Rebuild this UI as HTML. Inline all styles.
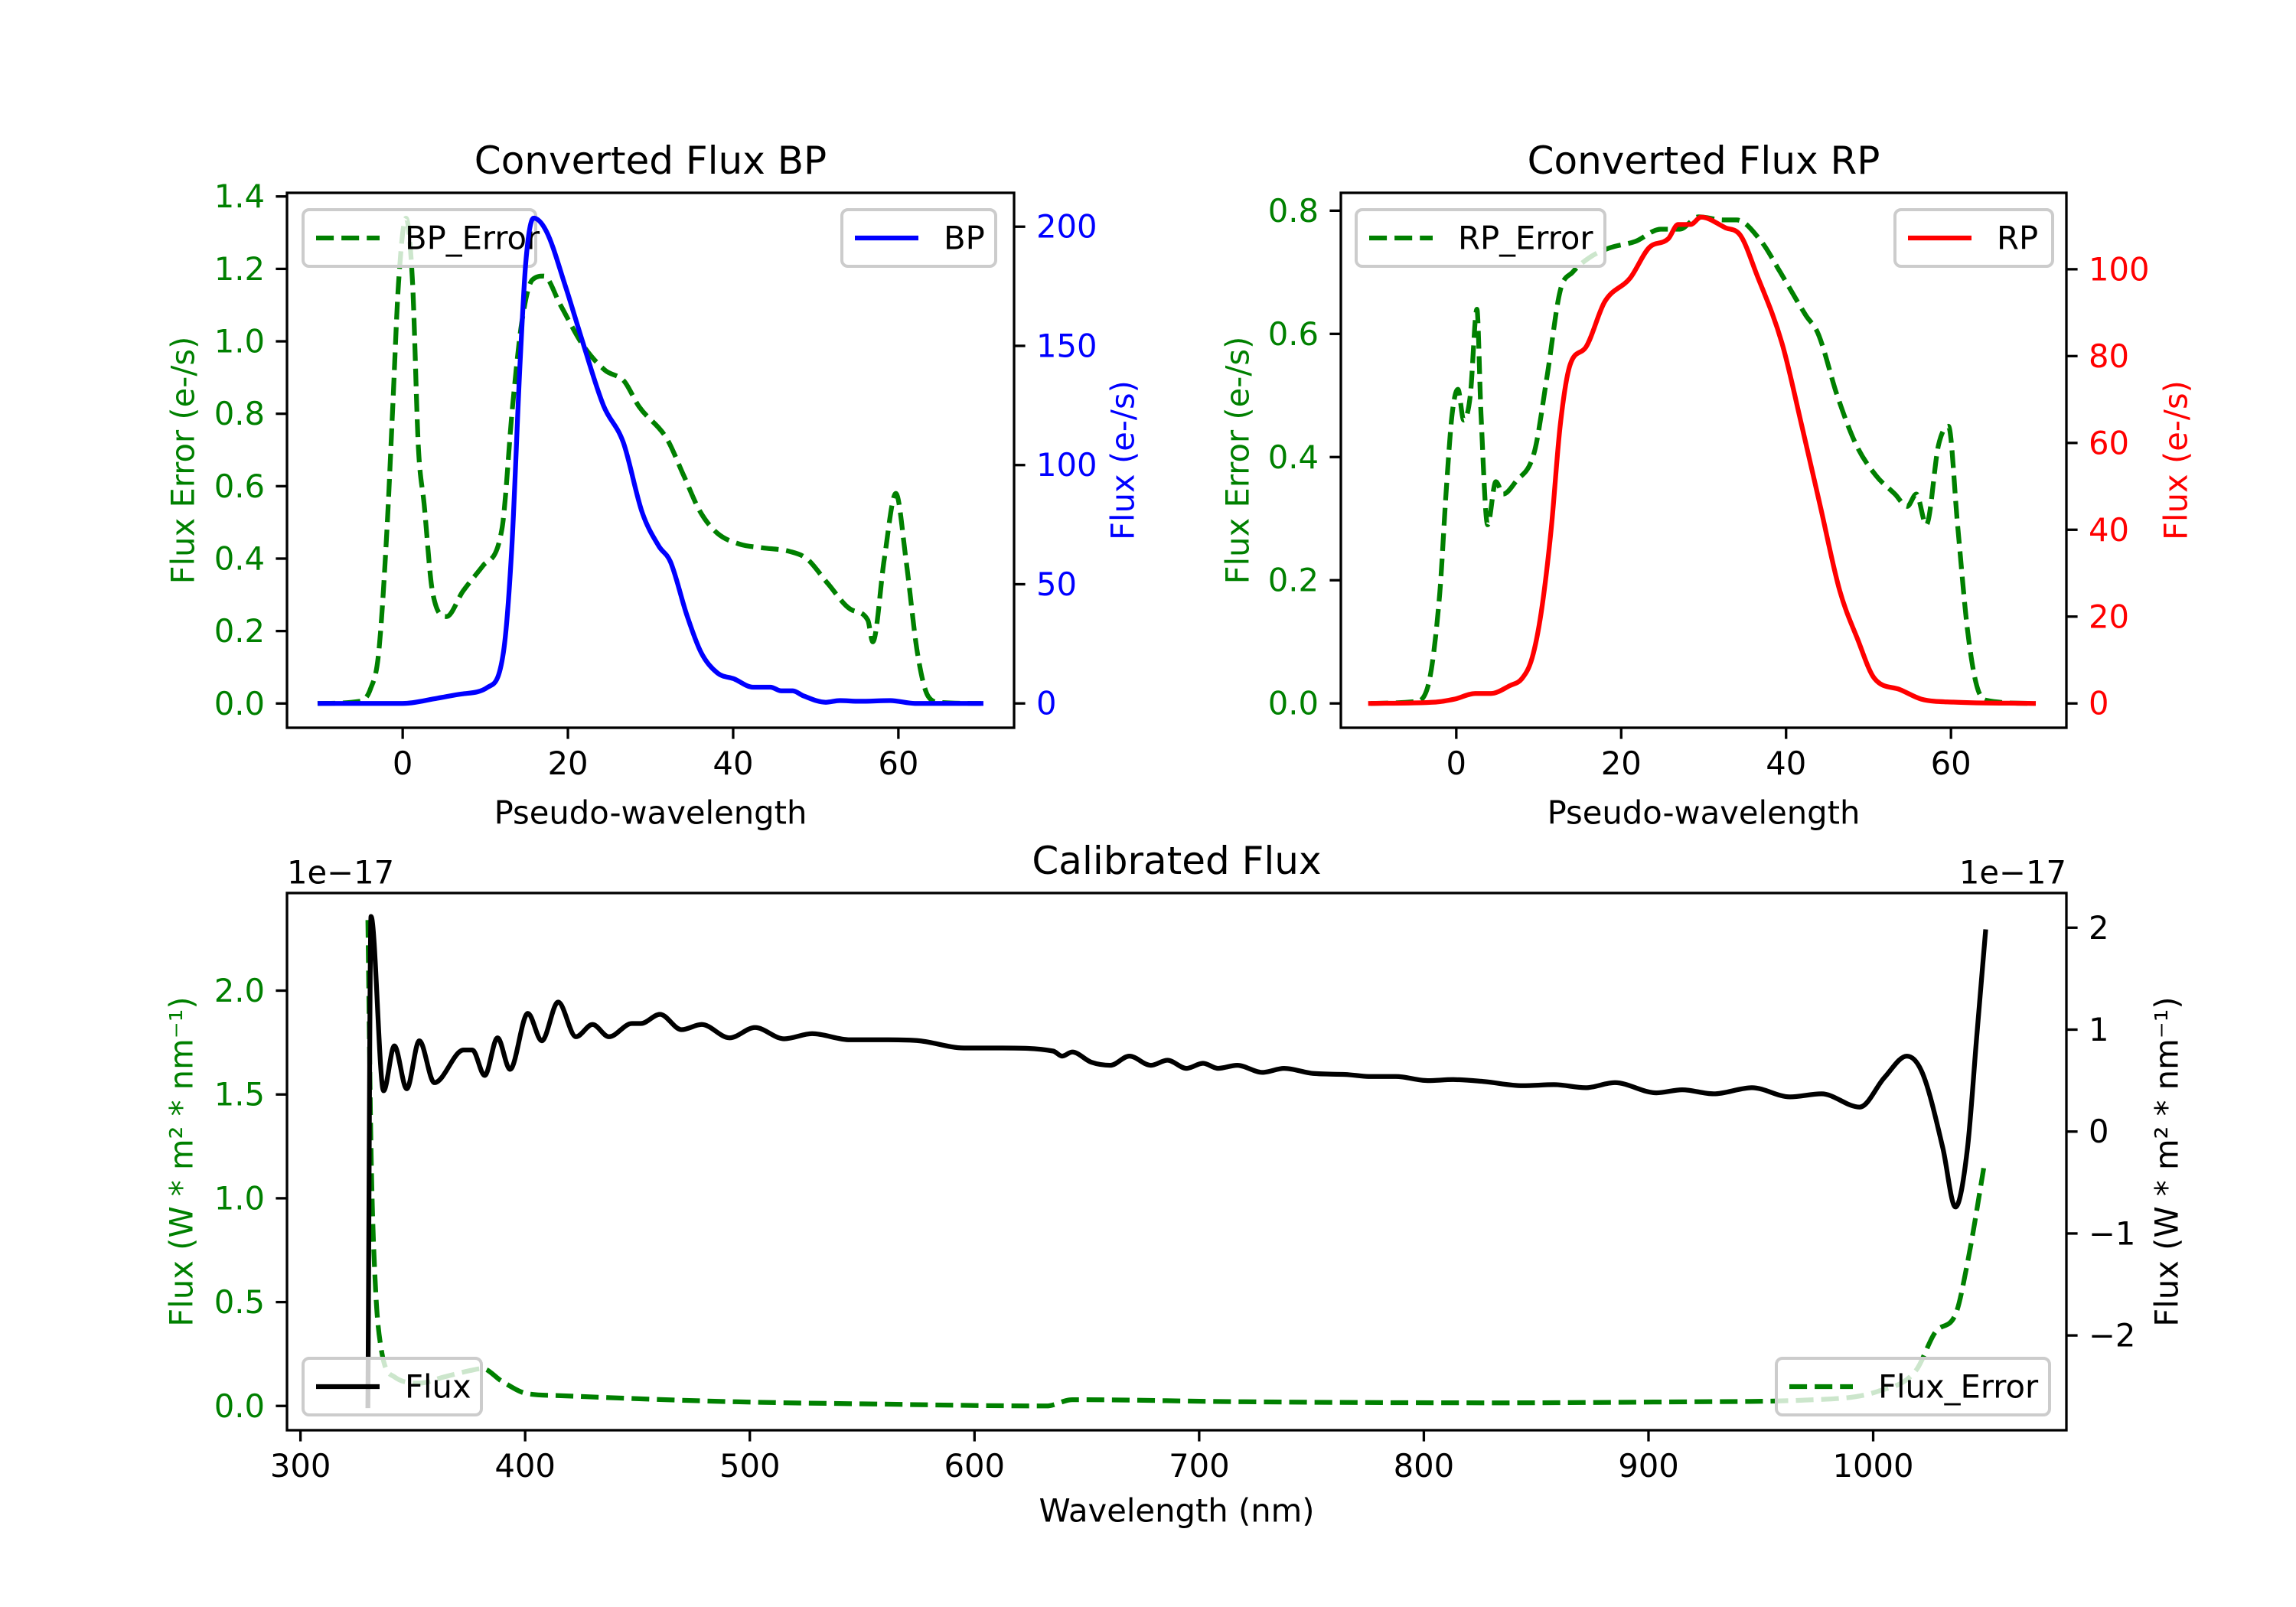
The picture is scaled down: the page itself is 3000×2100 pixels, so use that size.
<!DOCTYPE html>
<html><head><meta charset="utf-8"><style>
html,body{margin:0;padding:0;background:#fff}
svg{display:block}
text{font-family:"DejaVu Sans","Liberation Sans",sans-serif}
</style></head><body>
<svg id="fig" xmlns="http://www.w3.org/2000/svg" width="3000" height="2100" viewBox="0 0 3000 2100"></svg>
<script>
// ---- data ----
const bpX   =[-10,0,4.2,7.2,10.3,12.2,13.2,14.2,14.9,15.85,17.4,19.7,21.7,24.3,26.7,29.0,31.0,32.4,34.4,36.1,38.1,40.1,42.4,44.5,45.8,47.2,48.5,51.2,52.9,55.3,59,62,70];
const bpFlux=[0,0,2.2,4,6.8,21.5,64.6,142,185,203.6,198,175,152.6,125,109.5,80,66,59.5,37,21.5,12.8,10.3,6.8,6.8,5.3,5.3,3.2,0.5,1.2,0.9,1.2,0,0];
const bpErrX=[-10.3,-5.2,-3.9,-2.9,-1.9,-1.2,-0.5,0.4,1.2,1.9,2.6,3.6,5.3,7.3,9.7,12.0,13.3,14.4,15.7,17.1,19.1,21.8,24.5,26.8,28.6,32,34,36,38.1,40.8,43.5,46.8,48.9,51.5,54.2,56.3,56.9,58.3,59.7,60.9,62.3,63.6,65,70];
const bpErr =[0,0.006,0.04,0.14,0.48,0.82,1.16,1.34,1.16,0.71,0.55,0.31,0.24,0.31,0.38,0.48,0.82,1.05,1.17,1.18,1.10,0.99,0.92,0.89,0.82,0.73,0.63,0.53,0.47,0.44,0.43,0.42,0.40,0.33,0.26,0.23,0.17,0.40,0.58,0.40,0.14,0.02,0.003,0];
const rpX   =[-10.4,-2.5,-0.2,2.3,4.2,6.5,8.0,9.2,10.3,11.5,12.6,13.8,15.7,18,21.1,23.4,25.7,26.9,28.4,29.7,32.6,34.5,36.4,39.5,41.9,44.2,46.5,48.7,50.7,53.8,56.4,60.3,70];
const rpFlux=[0,0.3,1.0,2.3,2.3,4.1,5.8,10.5,21,40,64,78,82,92.5,98,105,107,110.3,110.3,112,109.6,107.7,99,83,64,45,26,14.7,5.8,3.2,1.0,0.3,0];
const rpErrX=[-10.4,-5.0,-3.5,-2.0,-1.2,-0.5,0.2,0.9,1.7,2.5,3.0,3.8,4.8,5.7,7.2,9.5,11.0,12.6,14.1,16.4,18.7,21.7,24.8,27.1,29.4,32.4,34,37,39.3,42.4,43.9,46.2,48.5,50.9,53.2,54.7,55.8,57,58.5,59.7,60.8,62,63.1,64.3,70];
const rpErr =[0,0.003,0.025,0.18,0.35,0.47,0.51,0.46,0.50,0.64,0.47,0.29,0.36,0.34,0.36,0.41,0.53,0.67,0.70,0.726,0.74,0.75,0.77,0.77,0.79,0.785,0.785,0.75,0.70,0.63,0.60,0.50,0.42,0.37,0.34,0.32,0.34,0.29,0.42,0.45,0.29,0.12,0.03,0.005,0];
const calX   =[330,331.4,337,341.8,347.3,352.9,359.6,372.6,376.5,382,387.7,393.3,401.2,407.4,414.7,422.6,430,437.3,447.5,451.5,460,469.6,478.6,491,502.3,515.3,527.7,544.6,561.5,575.6,595.4,612.4,635,639,643.5,652,660.5,668.9,678.5,685.9,694.3,701.7,708.4,716.9,728.2,737.8,750.8,765,776.3,787.6,801.7,813,827,844,858,872,885,903.5,915,929,946,963,977,994,1005,1015,1022,1031,1036.6,1042,1046,1050];
const calFlux=[-2.69,2.11,0.40,0.84,0.42,0.89,0.48,0.80,0.80,0.55,0.92,0.61,1.16,0.89,1.27,0.93,1.05,0.93,1.06,1.06,1.15,1.00,1.05,0.92,1.02,0.91,0.96,0.90,0.90,0.89,0.82,0.82,0.79,0.74,0.78,0.68,0.65,0.74,0.65,0.70,0.62,0.67,0.62,0.65,0.58,0.62,0.57,0.56,0.54,0.54,0.50,0.51,0.49,0.45,0.46,0.43,0.48,0.38,0.41,0.37,0.43,0.34,0.37,0.24,0.53,0.74,0.57,-0.16,-0.74,-0.16,0.91,1.96];
const calErrX=[330,331.4,333.2,336,341.8,352.9,364,375.4,381,389.5,400.6,414.7,437,493.7,550,632,643.5,720,833,918,974,1002,1019,1028,1036.6,1042,1049.6];
const calErr =[2.34,1.23,0.61,0.27,0.14,0.11,0.14,0.17,0.18,0.12,0.06,0.05,0.04,0.02,0.01,0.0,0.03,0.02,0.015,0.02,0.03,0.07,0.17,0.36,0.44,0.69,1.17];
const pwTicks=[0,20,40,60];
const bpErrTicks=[0,0.2,0.4,0.6,0.8,1.0,1.2,1.4];
const bpFluxTicks=[0,50,100,150,200];
const rpErrTicks=[0,0.2,0.4,0.6,0.8];
const rpFluxTicks=[0,20,40,60,80,100];
const wlTicks=[300,400,500,600,700,800,900,1000];
const calErrTicks=[0,0.5,1.0,1.5,2.0];
const calFluxTicks=[-2,-1,0,1,2];

const NS='http://www.w3.org/2000/svg';
const svg=document.getElementById('fig');
const FS=41.7;
function el(tag,attrs,parent,text){
  const e=document.createElementNS(NS,tag);
  for(const k in attrs)e.setAttribute(k,attrs[k]);
  if(text!==undefined)e.textContent=text;
  (parent||svg).appendChild(e);return e;
}
function scale(d0,d1,p0,p1){return v=>p0+(v-d0)*(p1-p0)/(d1-d0);}
function fmt(v,dec){return (v<0?'\u2212':'')+Math.abs(v).toFixed(dec);}

// monotone cubic path through pixel points
function smoothPath(P){
  const n=P.length;
  if(n<3)return 'M'+P.map(p=>p[0].toFixed(1)+','+p[1].toFixed(1)).join('L');
  const d=[],m=[];
  for(let i=0;i<n-1;i++){const dx=P[i+1][0]-P[i][0];d.push(dx===0?0:(P[i+1][1]-P[i][1])/dx);}
  m[0]=d[0];m[n-1]=d[n-2];
  for(let i=1;i<n-1;i++){m[i]=(d[i-1]*d[i]<=0)?0:(d[i-1]+d[i])/2;}
  for(let i=0;i<n-1;i++){
    if(d[i]===0){m[i]=0;m[i+1]=0;continue;}
    const a=m[i]/d[i],b=m[i+1]/d[i],s=a*a+b*b;
    if(s>9){const t=3/Math.sqrt(s);m[i]=t*a*d[i];m[i+1]=t*b*d[i];}
  }
  let s='M'+P[0][0].toFixed(1)+','+P[0][1].toFixed(1);
  for(let i=0;i<n-1;i++){
    const h=(P[i+1][0]-P[i][0])/3;
    s+=' C'+(P[i][0]+h).toFixed(1)+','+(P[i][1]+m[i]*h).toFixed(1)+' '+(P[i+1][0]-h).toFixed(1)+','+(P[i+1][1]-m[i+1]*h).toFixed(1)+' '+P[i+1][0].toFixed(1)+','+P[i+1][1].toFixed(1);
  }
  return s;
}
function line(xs,ys,sx,sy,color,dashed,name){
  const P=xs.map((x,i)=>[sx(x),sy(ys[i])]);
  const p=el('path',{d:smoothPath(P),fill:'none',stroke:color,'stroke-width':6.25,'stroke-linejoin':'round','stroke-linecap':dashed?'butt':'square'});
  if(dashed)p.setAttribute('stroke-dasharray','23.1 10');
  
  
  return p;
}
function legend(x,y,w,label,color,dashed,name){
  const g=el('g',{});
  
  
  el('rect',{x:x,y:y,width:w,height:74,rx:8,fill:'rgba(255,255,255,0.8)',stroke:'#cccccc','stroke-width':4},g);
  const h=el('line',{x1:x+17,x2:x+100,y1:y+37,y2:y+37,stroke:color,'stroke-width':6.25},g);
  if(dashed)h.setAttribute('stroke-dasharray','23.1 10');
  el('text',{x:x+133,y:y+37,'font-size':FS,'dominant-baseline':'central'},g,label);
}
function xAxis(ticks,sx,L,B,dec,name){
  const g=el('g',{});
  
  
  ticks.forEach(t=>{
    el('line',{x1:sx(t),x2:sx(t),y1:B,y2:B+14.6,stroke:'#000','stroke-width':3.3},g);
    el('text',{x:sx(t),y:B+30,'font-size':FS,'text-anchor':'middle','dominant-baseline':'hanging'},g,fmt(t,dec));
  });
}
function yAxis(ticks,sy,X,side,dec,color,name){
  const g=el('g',{});
  
  
  ticks.forEach(t=>{
    const d=side==='left'?-1:1;
    el('line',{x1:X,x2:X+d*14.6,y1:sy(t),y2:sy(t),stroke:'#000','stroke-width':3.3},g);
    el('text',{x:X+d*29,y:sy(t),'font-size':FS,fill:color,'text-anchor':side==='left'?'end':'start','dominant-baseline':'central'},g,fmt(t,dec));
  });
}
function rotLabel(x,y,txt,color,name){
  const t=el('text',{x:x,y:y,'font-size':FS,fill:color,'text-anchor':'middle','dominant-baseline':'central',transform:`rotate(-90 ${x} ${y})`},svg,txt);
  
  
}
function plainText(x,y,txt,size,anchor,name){
  const t=el('text',{x:x,y:y,'font-size':size,'text-anchor':anchor,'dominant-baseline':'central'},svg,txt);
  
  
}
function frame(L,T,R,B,name){
  const r=el('rect',{x:L,y:T,width:R-L,height:B-T,fill:'none',stroke:'#000','stroke-width':3.3});
  
  
}

// ---- Panel BP ----
(function(){
  const L=375,R=1325,T=252,B=951;
  const sx=scale(-14,74,L,R), syE=scale(-0.067,1.41,B,T), syF=scale(-10.2,214.2,B,T);
  line(bpErrX,bpErr,sx,syE,'#008000',true,'bp-error-line');
  legend(396,274,304,'BP_Error','#008000',true,'bp-error-legend');
  line(bpX,bpFlux,sx,syF,'#0000ff',false,'bp-flux-line');
  legend(1100,274,201,'BP','#0000ff',false,'bp-legend');
  frame(L,T,R,B,'bp-axes-frame');
  xAxis(pwTicks,sx,L,B,0,'bp-x-axis');
  yAxis(bpErrTicks,syE,L,'left',1,'#008000','bp-left-y-axis');
  yAxis(bpFluxTicks,syF,R,'right',0,'#0000ff','bp-right-y-axis');
  rotLabel(239,(T+B)/2,'Flux Error (e-/s)','#008000','bp-left-y-title');
  rotLabel(1467,(T+B)/2,'Flux (e-/s)','#0000ff','bp-right-y-title');
  plainText((L+R)/2,1062,'Pseudo-wavelength',FS,'middle','bp-x-title');
  plainText((L+R)/2,210,'Converted Flux BP',50,'middle','bp-title');
})();

// ---- Panel RP ----
(function(){
  const L=1752,R=2700,T=252,B=951;
  const sx=scale(-14,74,L,R), syE=scale(-0.0395,0.829,B,T), syF=scale(-5.6,117.6,B,T);
  line(rpErrX,rpErr,sx,syE,'#008000',true,'rp-error-line');
  legend(1772,274,325,'RP_Error','#008000',true,'rp-error-legend');
  line(rpX,rpFlux,sx,syF,'#ff0000',false,'rp-flux-line');
  legend(2476,274,206,'RP','#ff0000',false,'rp-legend');
  frame(L,T,R,B,'rp-axes-frame');
  xAxis(pwTicks,sx,L,B,0,'rp-x-axis');
  yAxis(rpErrTicks,syE,L,'left',1,'#008000','rp-left-y-axis');
  yAxis(rpFluxTicks,syF,R,'right',0,'#ff0000','rp-right-y-axis');
  rotLabel(1617,(T+B)/2,'Flux Error (e-/s)','#008000','rp-left-y-title');
  rotLabel(2843,(T+B)/2,'Flux (e-/s)','#ff0000','rp-right-y-title');
  plainText((L+R)/2,1062,'Pseudo-wavelength',FS,'middle','rp-x-title');
  plainText((L+R)/2,210,'Converted Flux RP',50,'middle','rp-title');
})();

// ---- Panel Calibrated ----
(function(){
  const L=375,R=2700,T=1167,B=1869;
  const sx=scale(294,1086,L,R), syE=scale(-0.117,2.47,B,T), syF=scale(-2.93,2.34,B,T);
  line(calErrX,calErr,sx,syE,'#008000',true,'cal-error-line');
  line(calX,calFlux,sx,syF,'#000000',false,'cal-flux-line');
  legend(396,1775,233,'Flux','#000000',false,'cal-flux-legend');
  legend(2321,1775,357,'Flux_Error','#008000',true,'cal-error-legend');
  frame(L,T,R,B,'cal-axes-frame');
  xAxis(wlTicks,sx,L,B,0,'cal-x-axis');
  yAxis(calErrTicks,syE,L,'left',1,'#008000','cal-left-y-axis');
  yAxis(calFluxTicks,syF,R,'right',0,'#000000','cal-right-y-axis');
  rotLabel(237,(T+B)/2,'Flux (W * m\u00B2 * nm\u207B\u00B9)','#008000','cal-left-y-title');
  rotLabel(2831,(T+B)/2,'Flux (W * m\u00B2 * nm\u207B\u00B9)','#000000','cal-right-y-title');
  plainText((L+R)/2,1974,'Wavelength (nm)',FS,'middle','cal-x-title');
  plainText((L+R)/2,1125,'Calibrated Flux',50,'middle','cal-title');
  plainText(L,1140,'1e\u221217',FS,'start','cal-left-offset-text');
  plainText(R,1140,'1e\u221217',FS,'end','cal-right-offset-text');
})();
</script>
</body></html>
